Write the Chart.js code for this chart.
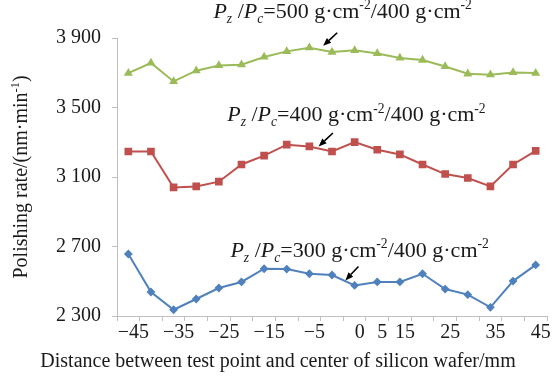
<!DOCTYPE html>
<html>
<head>
<meta charset="utf-8">
<script src="https://cdn.jsdelivr.net/npm/chart.js@4.4.0/dist/chart.umd.min.js"></script>
<style>
  html, body { margin: 0; padding: 0; background: #fff; }
</style>
</head>
<body>
<canvas id="chart" width="558" height="378"></canvas>
<script>
// --- data ---
// tick text printed under each of the 19 measuring points (blank = no label)
const xLabels = ['−45', '', '−35', '', '−25', '', '−15', '', '−5', '', '0', '5', '15', '', '25', '', '35', '', '45'];

// polishing rate, nm/min
const rate500 = [3698, 3756, 3650, 3712, 3742, 3746, 3791, 3823, 3844, 3819, 3829, 3811, 3785, 3773, 3736, 3694, 3689, 3702, 3698];
const rate400 = [3247, 3247, 3040, 3046, 3073, 3172, 3223, 3286, 3276, 3247, 3301, 3257, 3230, 3172, 3117, 3094, 3046, 3172, 3250];
const rate300 = [2657, 2438, 2336, 2398, 2461, 2496, 2572, 2570, 2543, 2536, 2476, 2496, 2496, 2543, 2455, 2423, 2350, 2501, 2594];

const yMin = 2300, yMax = 3900, yStep = 400;

// Pz (zone pressure) / Pc (centre pressure) for each curve
const pressures = [['500', '400'], ['400', '400'], ['300', '400']];

const FONT = '"Liberation Serif", "Times New Roman", serif';
const AXIS_GRAY = '#bfbfbf';
const TEXT = '#1a1a1a';

// label placement in data units: [point index, rate]
const notes = [
    { p: pressures[0], textAt: [3.76, 4017], tail: [9.23, 3930], tip: [8.61, 3855] },
    { p: pressures[1], textAt: [4.37, 3421], tail: [9.04, 3353], tip: [8.41, 3276] },
    { p: pressures[2], textAt: [4.51, 2641], tail: [10.17, 2585], tip: [9.59, 2505] }
];

// --- text helpers (sub / superscripts) ---
function ratioRuns(pz, pc) {
    return [
        { t: 'P', it: true }, { t: 'z', it: true, sub: true },
        { t: ' /' }, { t: 'P', it: true }, { t: 'c', it: true, sub: true },
        { t: '=' + pz + ' g·cm' }, { t: '-2', sup: true },
        { t: '/' + pc + ' g·cm' }, { t: '-2', sup: true }
    ];
}

function drawRuns(ctx, runs, x, y, size, dryRun) {
    let cx = x;
    runs.forEach(r => {
        const s = (r.sub || r.sup) ? size * 0.62 : size;
        ctx.font = (r.it ? 'italic ' : '') + s + 'px ' + FONT;
        const dy = r.sub ? size * 0.22 : r.sup ? -size * 0.38 : 0;
        if (!dryRun) ctx.fillText(r.t, cx, y + dy);
        cx += ctx.measureText(r.t).width;
    });
    return cx - x;
}

function arrow(ctx, from, to) {
    const ang = Math.atan2(to.y - from.y, to.x - from.x);
    const len = 8, half = 3.2;
    const bx = to.x - len * Math.cos(ang), by = to.y - len * Math.sin(ang);
    ctx.beginPath();
    ctx.moveTo(from.x, from.y);
    ctx.lineTo(bx, by);
    ctx.lineWidth = 1.6;
    ctx.stroke();
    ctx.beginPath();
    ctx.moveTo(to.x, to.y);
    ctx.lineTo(bx + half * Math.sin(ang), by - half * Math.cos(ang));
    ctx.lineTo(bx - half * Math.sin(ang), by + half * Math.cos(ang));
    ctx.closePath();
    ctx.fill();
}

const annotate = {
    id: 'annotate',
    afterDraw(chart) {
        const { ctx, chartArea, scales: { x, y } } = chart;
        const pt = a => ({ x: x.getPixelForValue(a[0]), y: y.getPixelForValue(a[1]) });
        ctx.save();
        ctx.fillStyle = '#000';
        ctx.strokeStyle = '#000';
        ctx.textBaseline = 'alphabetic';
        ctx.textAlign = 'left';

        notes.forEach(n => {
            const at = pt(n.textAt);
            ctx.fillStyle = TEXT;
            drawRuns(ctx, ratioRuns(n.p[0], n.p[1]), at.x, at.y, 22);
            ctx.fillStyle = '#000';
            arrow(ctx, pt(n.tail), pt(n.tip));
        });

        // axis titles
        ctx.fillStyle = TEXT;
        const xt = [{ t: 'Distance between test point and center of silicon wafer/mm' }];
        const xw = drawRuns(ctx, xt, 0, 0, 20, true);
        drawRuns(ctx, xt, 278 - xw / 2, 367, 20);

        const yt = [{ t: 'Polishing rate/(nm·min' }, { t: '-1', sup: true }, { t: ')' }];
        const yw = drawRuns(ctx, yt, 0, 0, 20, true);
        ctx.translate(27, (chartArea.top + chartArea.bottom) / 2);
        ctx.rotate(-Math.PI / 2);
        drawRuns(ctx, yt, -yw / 2, 0, 20);
        ctx.restore();
    }
};

new Chart(document.getElementById('chart'), {
    type: 'line',
    data: {
        labels: xLabels,
        datasets: [
            { label: '500', data: rate500, borderColor: '#9bbb59', backgroundColor: '#9bbb59',
              pointStyle: 'triangle', pointRadius: 3.2, borderWidth: 2 },
            { label: '400', data: rate400, borderColor: '#c0504d', backgroundColor: '#c0504d',
              pointStyle: 'rect', pointRadius: 4, borderWidth: 2 },
            { label: '300', data: rate300, borderColor: '#4f81bd', backgroundColor: '#4f81bd',
              pointStyle: 'rectRot', pointRadius: 3, borderWidth: 2 }
        ]
    },
    options: {
        responsive: false,
        animation: false,
        devicePixelRatio: 1,
        layout: { padding: { top: 38, right: 11, left: 0, bottom: 0 } },
        plugins: { legend: { display: false }, tooltip: { enabled: false } },
        elements: { line: { tension: 0 } },
        scales: {
            x: {
                offset: true,
                grid: { offset: true, drawOnChartArea: false, tickLength: 5, color: AXIS_GRAY },
                border: { color: AXIS_GRAY, width: 1 },
                ticks: { autoSkip: false, maxRotation: 0, padding: 0, labelOffset: 5,
                         color: TEXT, font: { family: FONT, size: 20 } },
                afterFit: s => { s.height = 62; }
            },
            y: {
                min: yMin, max: yMax,
                grid: { drawOnChartArea: false, tickLength: 5, color: AXIS_GRAY },
                border: { color: AXIS_GRAY, width: 1 },
                ticks: {
                    stepSize: yStep, padding: 11, color: TEXT,
                    font: { family: FONT, size: 20 },
                    callback: v => String(v).replace(/(\d)(\d{3})$/, '$1 $2')
                },
                afterFit: s => { s.width = 117; }
            }
        }
    },
    plugins: [annotate]
});
</script>
</body>
</html>
